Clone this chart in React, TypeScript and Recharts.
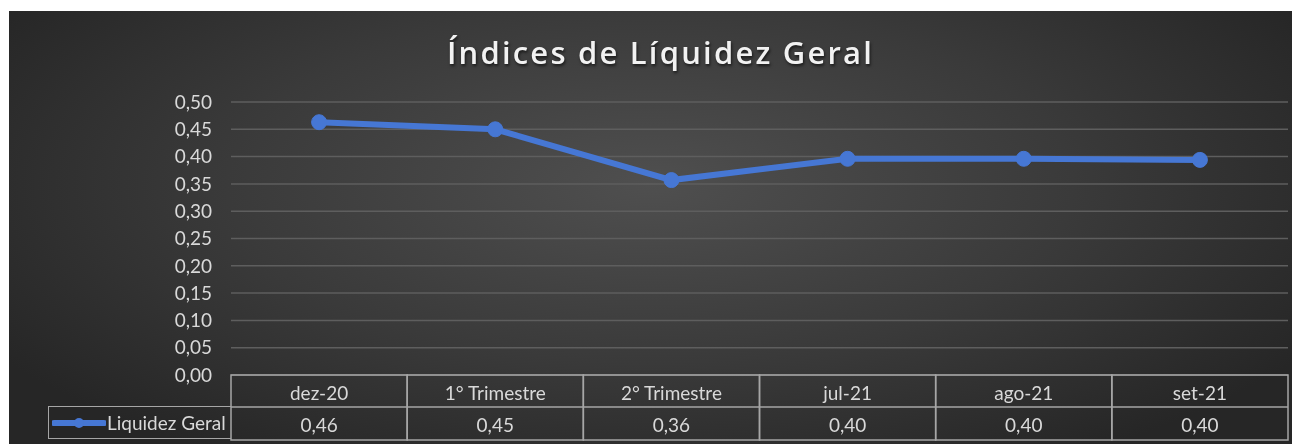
import React from "react";
import { LineChart, Line, XAxis, YAxis, CartesianGrid } from "recharts";

const periods = ["dez-20", "1° Trimestre", "2° Trimestre", "jul-21", "ago-21", "set-21"];
const liquidez = [0.463, 0.45, 0.357, 0.396, 0.396, 0.394];
const valueLabels = ["0,46", "0,45", "0,36", "0,40", "0,40", "0,40"];
const yTicks = [0, 0.05, 0.1, 0.15, 0.2, 0.25, 0.3, 0.35, 0.4, 0.45, 0.5];

const seriesName = "Liquidez Geral";
const chartTitle = "Índices de Líquidez Geral";

const W = 1283;
const H = 433;
const PLOT_LEFT = 222;
const PLOT_RIGHT = 4;
const Y_W = 60;
const COL_W = (W - PLOT_LEFT - PLOT_RIGHT) / periods.length;
const ROW1 = 32;
const ROW2 = 33;

const TEXT = "#d9d9d9";
const BORDER = "#a6a6a6";
const BLUE = "#4677d4";
const FONT = "Lato, 'Open Sans', sans-serif";

const data = periods.map((p, i) => ({ period: p, value: liquidez[i] }));

// draws the data-table cells under each category
function TableTick(props: any) {
  const { x, y, payload } = props;
  const i = payload.index;
  const left = x - COL_W / 2;
  return (
    <g>
      <rect x={left} y={y} width={COL_W} height={ROW1 + ROW2} fill="none" stroke={BORDER} strokeWidth={1.5} />
      <line x1={left} x2={left + COL_W} y1={y + ROW1} y2={y + ROW1} stroke={BORDER} strokeWidth={1.5} />
      <text x={x} y={y + ROW1 / 2 + 1} textAnchor="middle" dominantBaseline="central" fill={TEXT} fontSize={19} fontFamily={FONT}>
        {periods[i]}
      </text>
      <text x={x} y={y + ROW1 + ROW2 / 2 + 1} textAnchor="middle" dominantBaseline="central" fill={TEXT} fontSize={19} fontFamily={FONT}>
        {valueLabels[i]}
      </text>
    </g>
  );
}

export default function App() {
  return (
    <div
      style={{
        position: "fixed",
        top: 11,
        left: 9,
        width: W,
        height: H,
        overflow: "hidden",
        background: "radial-gradient(ellipse 60% 75% at 50% 40%, #4f4f4f 0%, #3a3a3a 55%, #262626 100%)",
      }}
    >
      <div
        style={{
          position: "absolute",
          top: 20,
          left: 0,
          width: W,
          paddingLeft: 20,
          boxSizing: "border-box",
          textAlign: "center",
          color: "#f2f2f2",
          fontFamily: "'Open Sans', sans-serif",
          fontWeight: 600,
          fontSize: 31,
          letterSpacing: 2.2,
          textShadow: "1px 2px 3px rgba(0,0,0,0.6)",
        }}
      >
        {chartTitle}
      </div>
      <LineChart
        width={W}
        height={H}
        data={data}
        margin={{ top: 91, right: PLOT_RIGHT, bottom: 4, left: PLOT_LEFT - Y_W }}
      >
        <CartesianGrid vertical={false} stroke="#5e5e5e" strokeWidth={1.5} />
        <XAxis
          dataKey="period"
          scale="band"
          height={65}
          axisLine={false}
          tickLine={false}
          tickSize={0}
          tickMargin={0}
          interval={0}
          tick={<TableTick />}
        />
        <YAxis
          width={Y_W}
          domain={[0, 0.5]}
          ticks={yTicks}
          axisLine={false}
          tickLine={false}
          tickSize={0}
          tickMargin={19}
          tickFormatter={(v: number) => v.toFixed(2).replace(".", ",")}
          tick={{ fill: TEXT, fontSize: 19, fontFamily: FONT }}
        />
        <Line
          type="linear"
          dataKey="value"
          name={seriesName}
          stroke={BLUE}
          strokeWidth={6}
          dot={{ r: 7.5, fill: BLUE, stroke: BLUE, strokeWidth: 1 }}
          activeDot={false}
          isAnimationActive={false}
        />
      </LineChart>
      <div
        style={{
          position: "absolute",
          left: 39,
          top: 395,
          width: PLOT_LEFT - 39,
          height: ROW2,
          boxSizing: "border-box",
          border: `1.5px solid ${BORDER}`,
          borderRight: "none",
          display: "flex",
          alignItems: "center",
          color: TEXT,
          fontFamily: FONT,
          fontSize: 19,
        }}
      >
        <svg width={54} height={16} style={{ marginLeft: 3, marginRight: 1 }}>
          <line x1={2} x2={52} y1={8} y2={8} stroke={BLUE} strokeWidth={6} strokeLinecap="round" />
          <circle cx={27} cy={8} r={5} fill={BLUE} />
        </svg>
        <span style={{ whiteSpace: "nowrap" }}>{seriesName}</span>
      </div>
    </div>
  );
}
